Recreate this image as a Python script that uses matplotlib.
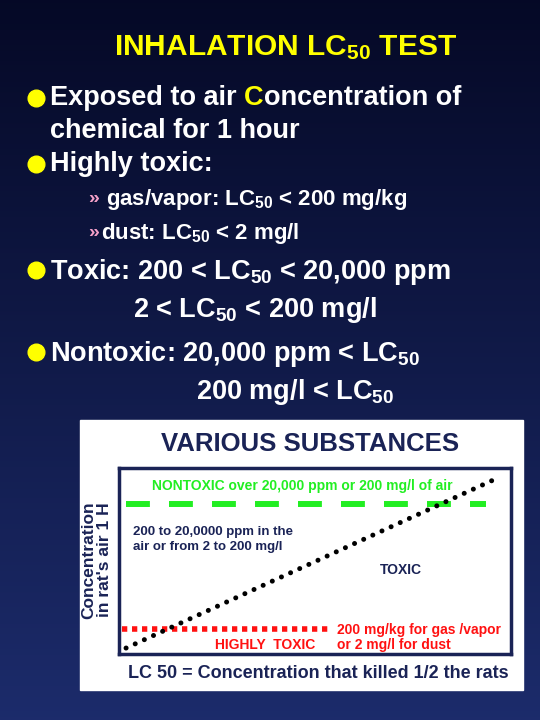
import numpy as np
import matplotlib
matplotlib.use("Agg")
import matplotlib.pyplot as plt

plt.rcParams['font.family'] = ['Liberation Sans', 'DejaVu Sans']
plt.rcParams['font.weight'] = 'bold'
plt.rcParams['mathtext.fontset'] = 'custom'
plt.rcParams['mathtext.rm'] = 'Liberation Sans:bold'
plt.rcParams['mathtext.it'] = 'Liberation Sans:bold'
plt.rcParams['mathtext.bf'] = 'Liberation Sans:bold'

# data (chart coordinates 0..1 within inner box)
nontoxic_level = 0.806
nontoxic_x = [0.018, 0.936]
highly_toxic_level = 0.134
highly_toxic_x = [0.008, 0.538]
diag_x = [0.018, 0.972]
diag_y = [0.032, 0.952]

W, H = 540, 720
fig = plt.figure(figsize=(5.4, 7.2), dpi=100)
bg = fig.add_axes([0, 0, 1, 1])
grad = np.linspace(0, 1, 256)[:, None]
top = np.array([0.02, 0.035, 0.15]); bot = np.array([0.11, 0.17, 0.42])
img = top[None, None, :] * (1 - grad[..., None]) + bot[None, None, :] * grad[..., None]
bg.imshow(np.repeat(img, 2, axis=1), extent=[0, W, H, 0], aspect='auto')
bg.set_xlim(0, W); bg.set_ylim(H, 0); bg.axis('off')

YEL = '#ffff00'; WHITE = 'white'; PINK = '#f4a0c8'
fig.canvas.draw()
r = fig.canvas.get_renderer()

def seq(x, y, parts, size):
    for s, c in parts:
        t = bg.text(x, y, s, color=c, fontsize=size, fontweight='bold', va='center', ha='left')
        bb = t.get_window_extent(renderer=r)
        x += bb.width

bg.text(286, 48, 'INHALATION LC$_{50}$ TEST', color=YEL, fontsize=21.5, ha='center', va='center')

def bullet(y):
    bg.plot(36, y, 'o', color=YEL, ms=12)

FS = 19.5
bullet(98); seq(50, 98, [('Exposed to air ', WHITE), ('C', YEL), ('oncentration of', WHITE)], FS)
bg.text(50, 131, 'chemical for 1 hour', color=WHITE, fontsize=FS, va='center')
bullet(164); bg.text(50, 164, 'Highly toxic:', color=WHITE, fontsize=FS, va='center')
bg.text(88, 198, '»', color=PINK, fontsize=14, va='center')
bg.text(106, 199, 'gas/vapor: LC$_{50}$ < 200 mg/kg', color=WHITE, fontsize=16, va='center')
bg.text(88, 232, '»', color=PINK, fontsize=14, va='center')
bg.text(101, 233, 'dust: LC$_{50}$ < 2 mg/l', color=WHITE, fontsize=16, va='center')
bullet(270); bg.text(50, 272, 'Toxic: 200 < LC$_{50}$ < 20,000 ppm', color=WHITE, fontsize=FS, va='center')
bg.text(133, 310, '2 < LC$_{50}$ < 200 mg/l', color=WHITE, fontsize=FS, va='center')
bullet(352); bg.text(50, 354, 'Nontoxic: 20,000 ppm < LC$_{50}$', color=WHITE, fontsize=FS, va='center')
bg.text(196, 392, '200 mg/l < LC$_{50}$', color=WHITE, fontsize=FS, va='center')

# white panel
bg.add_patch(plt.Rectangle((80, 420), 443, 270, color='white', zorder=2))
NAVY = '#1a2356'
bg.text(310, 444, 'VARIOUS SUBSTANCES', color=NAVY, fontsize=18.5, ha='center', va='center', zorder=3)
bg.text(97, 560, "Concentration\nin rat's air 1 H", color=NAVY, fontsize=12.5, ha='center',
        va='center', rotation=90, linespacing=1.05, zorder=3)
bg.text(318, 673, 'LC 50 = Concentration that killed 1/2 the rats', color=NAVY, fontsize=13,
        ha='center', va='center', zorder=3)

ax = fig.add_axes([119/W, 1 - 654/H, 392/W, 186/H])
ax.set_xlim(0, 1); ax.set_ylim(0, 1)
ax.set_xticks([]); ax.set_yticks([])
for s in ax.spines.values():
    s.set_color(NAVY); s.set_linewidth(2.5)
ax.set_facecolor('white')
ax.plot(nontoxic_x, [nontoxic_level] * 2, color='#22ee22', lw=4.3, dashes=(4, 3.2), solid_capstyle='butt', dash_capstyle='butt')
ax.plot(highly_toxic_x, [highly_toxic_level] * 2, color='#ff1111', lw=4, dashes=(0.95, 0.85), dash_capstyle='butt')
ax.plot(diag_x, diag_y, color='black', lw=3.6, dashes=(0.01, 2.0), dash_capstyle='round')
ax.text(0.085, 0.905, 'NONTOXIC over 20,000 ppm or 200 mg/l of air', color='#22ee22', fontsize=10, va='center', transform=ax.transAxes)
ax.text(0.035, 0.615, '200 to 20,0000 ppm in the\nair or from 2 to 200 mg/l', color=NAVY, fontsize=9.5,
        va='center', linespacing=1.3, transform=ax.transAxes)
ax.text(0.718, 0.45, 'TOXIC', color=NAVY, fontsize=10, ha='center', va='center', transform=ax.transAxes)
ax.text(0.372, 0.049, 'HIGHLY  TOXIC', color='#ff1111', fontsize=10, ha='center', va='center', transform=ax.transAxes)
ax.text(0.557, 0.09, '200 mg/kg for gas /vapor\nor 2 mg/l for dust', color='#ff1111', fontsize=10,
        va='center', linespacing=1.1, transform=ax.transAxes)

fig.savefig('out.png', dpi=100)
